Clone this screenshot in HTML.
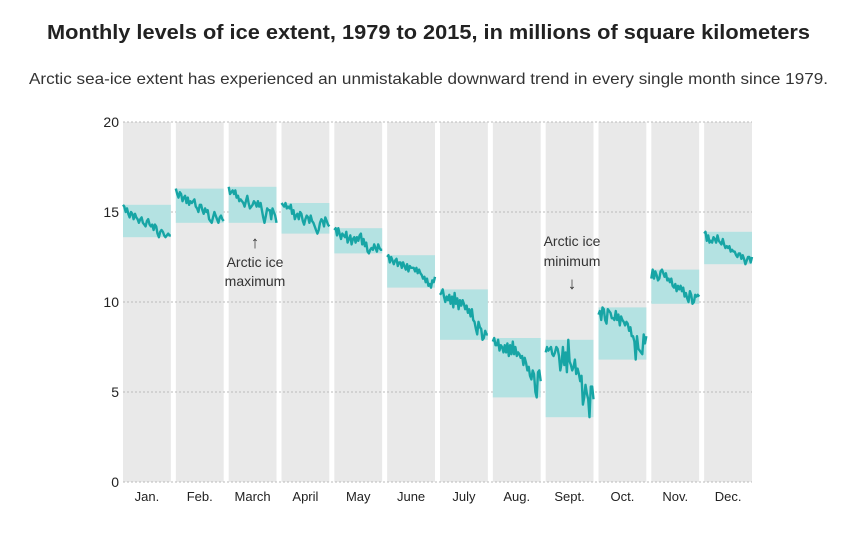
<!DOCTYPE html>
<html><head><meta charset="utf-8"><style>
body{margin:0;background:#fff;font-family:"Liberation Sans",sans-serif}
svg text{font-family:"Liberation Sans",sans-serif}
</style></head><body>
<svg id="chart" width="855" height="531">
<text x="47" y="39" textLength="763" lengthAdjust="spacingAndGlyphs" font-size="20" font-weight="bold" fill="#222">Monthly levels of ice extent, 1979 to 2015, in millions of square kilometers</text>
<text x="29" y="84" textLength="799" lengthAdjust="spacingAndGlyphs" font-size="16" fill="#333">Arctic sea-ice extent has experienced an unmistakable downward trend in every single month since 1979.</text>
<g id="panels"></g><g id="grid"></g><g id="boxes"></g><g id="lines"></g><g id="labels"></g>
<g font-size="14" fill="#333" text-anchor="middle">
<text x="255" y="248" font-size="17">↑</text><text x="255" y="267">Arctic ice</text><text x="255" y="286">maximum</text></g>
<g font-size="14" fill="#333" text-anchor="middle">
<text x="572" y="246">Arctic ice</text><text x="572" y="266">minimum</text><text x="572" y="289" font-size="17">↓</text></g>
</svg>
<script>
const months=["Jan.","Feb.","March","April","May","June","July","Aug.","Sept.","Oct.","Nov.","Dec."];
const yTicks=[0,5,10,15,20];
const jan=[15.4,15.3,15.0,15.2,14.9,14.7,15.0,14.9,14.6,14.9,14.7,14.6,14.4,14.6,14.7,14.4,14.3,14.2,14.5,14.6,14.3,14.2,14.3,14.0,14.3,14.2,13.8,13.6,13.9,14.0,13.9,13.7,13.6,13.7,13.8,13.7,13.7];
const feb=[16.3,16.0,15.8,16.1,16.0,15.6,15.8,15.9,15.5,15.8,15.4,15.6,15.5,15.6,15.7,15.3,15.2,15.0,15.4,15.4,15.1,14.9,15.2,15.0,15.1,14.6,14.5,14.4,14.7,15.0,14.8,14.6,14.4,14.7,14.8,14.6,14.5];
const mar=[16.4,16.0,16.1,16.2,16.0,16.2,15.8,15.9,15.6,15.7,15.6,15.5,15.3,15.6,15.9,15.5,15.2,15.3,15.4,15.6,15.5,15.3,15.6,15.3,15.5,15.1,14.7,14.4,14.8,15.2,15.1,15.1,14.6,15.2,15.0,14.8,14.4];
const apr=[15.5,15.4,15.3,15.5,15.2,15.3,15.2,15.4,14.9,15.1,14.6,14.8,14.9,14.6,15.0,14.9,14.5,14.3,14.6,14.8,14.7,14.4,14.8,14.5,14.4,14.2,14.0,13.8,14.0,14.4,14.6,14.5,14.2,14.7,14.5,14.3,14.2];
const may=[14.0,14.1,13.7,14.1,13.8,13.5,13.8,13.7,13.6,13.9,13.3,13.5,13.7,13.2,13.5,13.6,13.3,13.6,13.4,13.7,13.8,13.2,13.5,13.1,13.3,12.8,12.7,12.9,13.0,12.9,13.2,13.0,12.8,13.2,13.0,12.9,12.9];
const jun=[12.5,12.6,12.2,12.5,12.3,12.1,12.3,12.4,12.0,12.2,12.2,11.9,12.2,12.0,11.8,12.1,11.7,12.0,11.9,11.9,11.9,11.7,11.9,11.6,11.8,11.6,11.5,11.3,11.4,11.1,11.3,10.9,11.0,10.8,11.2,11.1,11.4];
const jul=[10.4,10.5,10.7,10.3,10.0,10.3,10.1,10.4,9.9,10.3,9.7,10.5,9.9,10.2,9.6,10.1,9.8,10.1,9.9,9.6,9.8,9.4,9.6,9.2,9.6,9.0,8.9,8.5,8.2,8.9,8.6,8.5,7.9,8.0,8.4,8.2,8.2];
const aug=[7.8,8.0,7.6,7.6,7.9,7.3,7.6,7.5,7.2,7.6,7.2,7.7,7.0,7.6,7.1,7.8,7.1,7.5,7.0,7.2,7.1,6.9,7.0,6.5,6.9,6.6,6.2,6.4,5.9,5.7,6.2,6.0,5.0,4.7,6.1,6.2,5.6];
const sep=[7.2,7.5,7.3,7.4,7.5,7.1,7.0,7.2,7.5,7.4,7.0,6.2,6.6,7.5,6.5,7.2,6.1,7.9,6.7,6.5,6.2,6.4,6.8,6.0,6.3,6.0,5.6,5.9,4.3,4.7,5.4,4.9,4.6,3.6,5.3,5.3,4.6];
const oct=[9.3,9.5,9.0,9.7,9.6,9.0,8.8,9.6,9.5,9.4,9.1,9.1,9.0,9.5,9.0,9.3,8.7,9.2,9.0,8.9,8.7,8.9,8.8,8.4,8.6,8.1,8.1,7.8,6.8,8.1,7.4,7.3,7.2,7.1,8.2,7.7,8.1];
const nov=[11.3,11.8,11.3,11.7,11.5,11.2,11.3,11.7,11.8,11.6,11.4,11.6,11.2,11.3,11.1,11.3,10.9,10.8,11.0,10.6,10.9,10.7,10.9,10.6,10.8,10.3,10.5,10.2,10.0,10.6,10.4,9.9,10.0,10.4,10.3,10.4,10.3];
const dec=[13.8,13.9,13.4,13.7,13.3,13.4,13.3,13.6,13.5,13.3,13.7,13.4,13.3,13.2,13.5,13.2,13.0,13.1,13.0,13.1,12.8,12.9,12.8,12.8,12.6,12.5,12.7,12.7,12.4,12.6,12.4,12.1,12.3,12.5,12.5,12.2,12.5];
const series=[jan,feb,mar,apr,may,jun,jul,aug,sep,oct,nov,dec];
const NS="http://www.w3.org/2000/svg";
const L=123,R=752,T=122,B=482,GAP=5;
const pw=(R-L-GAP*11)/12;
function y(v){return B-(v-0)/(20-0)*(B-T);}
function px(m){return L+m*(pw+GAP);}
function mk(tag,attrs,parent){const e=document.createElementNS(NS,tag);for(const k in attrs)e.setAttribute(k,attrs[k]);document.getElementById(parent).appendChild(e);return e;}
months.forEach((m,i)=>{
 const r=mk("rect",{x:px(i),y:T,width:pw,height:B-T,fill:"#e9e9e9"},"panels");
 
 
 const t=mk("text",{x:px(i)+pw/2,y:501,"text-anchor":"middle","font-size":"13",fill:"#222"},"labels");
 t.textContent=m;
 
 
});
yTicks.forEach(v=>{
 const g=mk("line",{x1:L,x2:R,y1:y(v),y2:y(v),stroke:"#bbb","stroke-width":"1","stroke-dasharray":"2,2"},"grid");
 
 
 const t=mk("text",{x:119,y:y(v)+5,"text-anchor":"end","font-size":"14",fill:"#222"},"labels");
 t.textContent=v;
 
 
});
series.forEach((s,i)=>{
 const mn=Math.min(...s),mx=Math.max(...s);
 const b=mk("rect",{x:px(i),y:y(mx),width:pw,height:y(mn)-y(mx),fill:"#b4e2e2"},"boxes");
 
 
 const pts=s.map((v,j)=>(px(i)+j/(s.length-1)*pw).toFixed(1)+","+y(v).toFixed(1)).join(" ");
 const p=mk("polyline",{points:pts,fill:"none",stroke:"#17a5a5","stroke-width":"2.4","stroke-linejoin":"round"},"lines");
 
 
});
</script>
</body></html>
